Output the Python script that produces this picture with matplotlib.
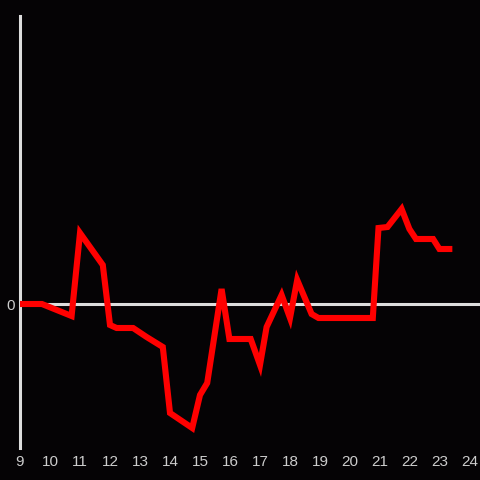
import numpy as np
import matplotlib.pyplot as plt

# hour of day and value (arbitrary units)
hours = [9.0, 9.73, 10.72, 11.0, 11.76, 12.0, 12.22, 12.77, 13.22, 13.76,
         14.0, 14.74, 15.0, 15.24, 15.72, 15.98, 16.69, 17.0, 17.22, 17.72,
         18.0, 18.24, 18.72, 18.95, 20.76, 20.95, 21.25, 21.72, 21.98, 22.2,
         22.77, 22.98, 23.31]
values = [0.0, 0.0, -1.2, 7.1, 3.9, -2.1, -2.4, -2.4, -3.3, -4.3,
          -10.9, -12.4, -9.1, -7.9, 1.5, -3.5, -3.5, -6.1, -2.3, 0.9,
          -1.4, 2.4, -1.0, -1.4, -1.4, 7.6, 7.7, 9.5, 7.5, 6.5,
          6.5, 5.5, 5.5]
xticks = list(range(9, 25))

bg = '#050305'
fg = '#dddddd'

fig = plt.figure(figsize=(4.8, 4.8), dpi=100, facecolor=bg)
ax = fig.add_axes([20 / 480, 32 / 480, 460 / 480, 432 / 480])
ax.set_facecolor(bg)

ax.plot(hours, values, color='#ff0000', lw=4.4, solid_joinstyle='miter', zorder=3)
ax.axhline(0, color=fg, lw=2.2, zorder=2)

ax.set_xlim(9, 9 + 460 / 30)
ax.set_ylim(-14.4, 28.8)

for s in ['top', 'right', 'bottom']:
    ax.spines[s].set_visible(False)
ax.spines['left'].set_color(fg)
ax.spines['left'].set_linewidth(2.2)

ax.set_xticks(xticks)
ax.set_xticklabels([str(t) for t in xticks])
ax.set_yticks([0])
ax.set_yticklabels(['0'])
ax.tick_params(length=0, colors='#cccccc', labelsize=11, pad=4)
for lab in ax.get_xticklabels() + ax.get_yticklabels():
    lab.set_family('Liberation Sans')
ax.tick_params(axis='x', pad=5)
ax.tick_params(axis='y', pad=4)

fig.savefig('out.png', facecolor=bg)
